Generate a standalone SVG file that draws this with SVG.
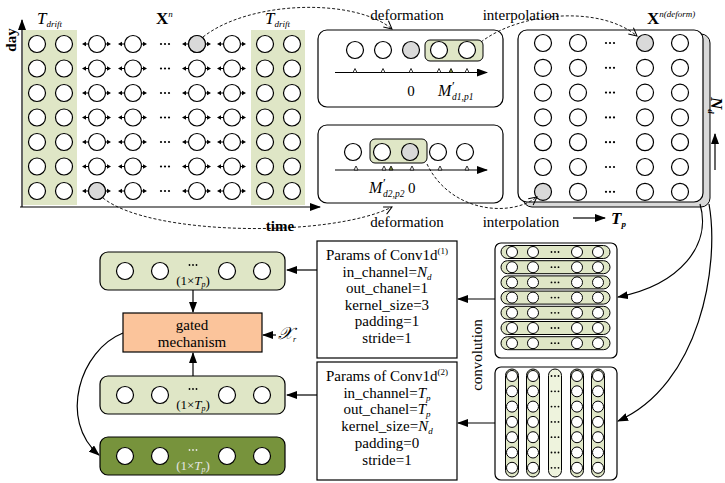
<svg xmlns="http://www.w3.org/2000/svg" width="725" height="483" viewBox="0 0 725 483" font-size="14">
<style>
.c{fill:#fff;stroke:#000;stroke-width:1.2}
.gc{fill:#d9d9d9;stroke:#000;stroke-width:1.2}
.sc{fill:#fff;stroke:#000;stroke-width:1}
.ln{fill:none;stroke:#000;stroke-width:1.2}
.dl{fill:none;stroke:#000;stroke-width:0.9;stroke-dasharray:3,2}
.band{fill:#dfe6c6}
.box{fill:#fff;stroke:#000;stroke-width:1.2}
.t{font-family:"Liberation Serif","DejaVu Serif",serif}
.it{font-style:italic}
.tk{fill:#fff;stroke:#000;stroke-width:0.8}
</style>
<defs>
<marker id="ah" markerWidth="11" markerHeight="8" refX="10" refY="4" orient="auto" markerUnits="userSpaceOnUse"><path d="M0,0 L11,4 L0,8 z" fill="#000"/></marker>
<marker id="oa" markerWidth="10" markerHeight="10" refX="9" refY="5" orient="auto" markerUnits="userSpaceOnUse"><path d="M1,1 L9,5 L1,9" fill="none" stroke="#000" stroke-width="1"/></marker>
<g id="ac"><path d="M-8.5,0 H-12 M8.5,0 H11" stroke="#000" stroke-width="1.2"/><path d="M-15,0 L-11,-2.3 L-11,2.3 z M14,0 L10,-2.3 L10,2.3 z" fill="#000"/><circle r="8.5" class="c"/></g>
<g id="dots"><circle cx="-4" r="1.1"/><circle cx="0" r="1.1"/><circle cx="4" r="1.1"/></g>
<g id="sd"><circle cx="-3.5" r="0.9"/><circle cx="0" r="0.9"/><circle cx="3.5" r="0.9"/></g>
<path id="tick" d="M-2,0 L0,-4 L2,0 z"/>
</defs>

<!-- left grid -->
<g id="grid-input">
<rect class="band" x="23" y="30" width="54" height="175"/>
<rect class="band" x="251" y="30" width="54" height="175"/>
<path d="M22,207 V20" class="ln" marker-end="url(#ah)"/>
<path d="M20,207 H320" class="ln" marker-end="url(#ah)"/>
<text class="t" font-weight="bold" font-size="15" transform="translate(16,40) rotate(-90)" text-anchor="middle">day</text>
<text class="t" font-weight="bold" font-size="15" x="280" y="231" text-anchor="middle">time</text>
<text class="t it" x="37" y="24" font-size="17">T<tspan font-size="9" dy="3">drift</tspan></text>
<text class="t it" x="265" y="24" font-size="17">T<tspan font-size="9" dy="3">drift</tspan></text>
<text class="t" x="156" y="24" font-size="17" font-weight="bold">X<tspan font-size="9" font-weight="normal" font-style="italic" dy="-7">n</tspan></text>
<g id="rows">
<g transform="translate(0,44)"><circle cx="37" r="8.5" class="c"/><circle cx="64" r="8.5" class="c"/><use href="#ac" x="97"/><use href="#ac" x="133"/><use href="#dots" x="165"/><use href="#ac" x="197"/><use href="#ac" x="232"/><circle cx="265" r="8.5" class="c"/><circle cx="292" r="8.5" class="c"/></g>
<g transform="translate(0,68.5)"><circle cx="37" r="8.5" class="c"/><circle cx="64" r="8.5" class="c"/><use href="#ac" x="97"/><use href="#ac" x="133"/><use href="#dots" x="165"/><use href="#ac" x="197"/><use href="#ac" x="232"/><circle cx="265" r="8.5" class="c"/><circle cx="292" r="8.5" class="c"/></g>
<g transform="translate(0,93)"><circle cx="37" r="8.5" class="c"/><circle cx="64" r="8.5" class="c"/><use href="#ac" x="97"/><use href="#ac" x="133"/><use href="#dots" x="165"/><use href="#ac" x="197"/><use href="#ac" x="232"/><circle cx="265" r="8.5" class="c"/><circle cx="292" r="8.5" class="c"/></g>
<g transform="translate(0,117.5)"><circle cx="37" r="8.5" class="c"/><circle cx="64" r="8.5" class="c"/><use href="#ac" x="97"/><use href="#ac" x="133"/><use href="#dots" x="165"/><use href="#ac" x="197"/><use href="#ac" x="232"/><circle cx="265" r="8.5" class="c"/><circle cx="292" r="8.5" class="c"/></g>
<g transform="translate(0,142)"><circle cx="37" r="8.5" class="c"/><circle cx="64" r="8.5" class="c"/><use href="#ac" x="97"/><use href="#ac" x="133"/><use href="#dots" x="165"/><use href="#ac" x="197"/><use href="#ac" x="232"/><circle cx="265" r="8.5" class="c"/><circle cx="292" r="8.5" class="c"/></g>
<g transform="translate(0,166.5)"><circle cx="37" r="8.5" class="c"/><circle cx="64" r="8.5" class="c"/><use href="#ac" x="97"/><use href="#ac" x="133"/><use href="#dots" x="165"/><use href="#ac" x="197"/><use href="#ac" x="232"/><circle cx="265" r="8.5" class="c"/><circle cx="292" r="8.5" class="c"/></g>
<g transform="translate(0,191)"><circle cx="37" r="8.5" class="c"/><circle cx="64" r="8.5" class="c"/><use href="#ac" x="97"/><use href="#ac" x="133"/><use href="#dots" x="165"/><use href="#ac" x="197"/><use href="#ac" x="232"/><circle cx="265" r="8.5" class="c"/><circle cx="292" r="8.5" class="c"/></g>
</g>
<circle cx="197" cy="44" r="8.5" class="gc"/>
<circle cx="97" cy="191" r="8.5" class="gc"/>
</g>

<!-- deformation box 1 -->
<g id="deform1">
<rect class="box" x="318" y="30" width="185" height="77" rx="9"/>
<rect x="425" y="40" width="58" height="21" rx="5" fill="#dfe6c6" stroke="#000" stroke-width="1"/>
<circle cx="355" cy="50" r="8.5" class="c"/><circle cx="383" cy="50" r="8.5" class="c"/><circle cx="411" cy="50" r="8.5" class="gc"/><circle cx="439" cy="50" r="8.5" class="c"/><circle cx="467" cy="50" r="8.5" class="c"/>
<path d="M335,72.5 H487" class="ln" marker-end="url(#ah)"/>
<use href="#tick" x="355" y="72.5" class="tk"/><use href="#tick" x="383" y="72.5" class="tk"/><use href="#tick" x="411" y="72.5" class="tk"/><use href="#tick" x="439" y="72.5" class="tk"/><use href="#tick" x="451" y="72.5" fill="#7a8a3a" stroke="#000" stroke-width="0.8"/><use href="#tick" x="467" y="72.5" class="tk"/>
<text class="t" x="411" y="96" font-size="15" text-anchor="middle">0</text>
<text class="t" x="438" y="96"><tspan class="it" font-size="16">M</tspan><tspan x="452" y="90" font-size="13">′</tspan><tspan class="it" x="452" y="100" font-size="9.5">d1,p1</tspan></text>
</g>

<!-- deformation box 2 -->
<g id="deform2">
<rect class="box" x="318" y="125" width="185" height="78" rx="9"/>
<rect x="370" y="139" width="57" height="24" rx="5" fill="#dfe6c6" stroke="#000" stroke-width="1"/>
<circle cx="353" cy="152" r="8.5" class="c"/><circle cx="382" cy="152" r="8.5" class="c"/><circle cx="410" cy="152" r="8.5" class="gc"/><circle cx="438" cy="152" r="8.5" class="c"/><circle cx="465" cy="152" r="8.5" class="c"/>
<path d="M335,170 H487" class="ln" marker-end="url(#ah)"/>
<use href="#tick" x="356" y="170" class="tk"/><use href="#tick" x="384" y="170" class="tk"/><use href="#tick" x="391" y="170" fill="#7a8a3a" stroke="#000" stroke-width="0.8"/><use href="#tick" x="412" y="170" class="tk"/><use href="#tick" x="440" y="170" class="tk"/><use href="#tick" x="467" y="170" class="tk"/>
<text class="t" x="369" y="193"><tspan class="it" font-size="16">M</tspan><tspan x="383" y="187" font-size="13">′</tspan><tspan class="it" x="383" y="197" font-size="9.5">d2,p2</tspan><tspan x="408" y="193" font-size="15">0</tspan></text>
</g>

<g id="labels">
<text class="t" x="407" y="20" font-size="15" text-anchor="middle">deformation</text>
<text class="t" x="521" y="20" font-size="15" text-anchor="middle">interpolation</text>
<text class="t" x="407" y="227" font-size="15" text-anchor="middle">deformation</text>
<text class="t" x="521" y="227" font-size="15" text-anchor="middle">interpolation</text>
</g>

<!-- right grid -->
<g id="grid-deform">
<rect x="523" y="34" width="187" height="173" rx="9" fill="#d9d9d9" stroke="#000" stroke-width="1"/>
<rect class="box" x="518" y="30" width="185" height="172" rx="9"/>
<text class="t" x="647" y="24" font-size="17" font-weight="bold">X<tspan font-size="9" font-weight="normal" font-style="italic" dy="-7">n(deform)</tspan></text>
<g transform="translate(0,43)"><circle cx="543" r="8.5" class="c"/><circle cx="578" r="8.5" class="c"/><use href="#dots" x="610"/><circle cx="645" r="8.5" class="gc"/><circle cx="680" r="8.5" class="c"/></g>
<g transform="translate(0,67.8)"><circle cx="543" r="8.5" class="c"/><circle cx="578" r="8.5" class="c"/><use href="#dots" x="610"/><circle cx="645" r="8.5" class="c"/><circle cx="680" r="8.5" class="c"/></g>
<g transform="translate(0,92.6)"><circle cx="543" r="8.5" class="c"/><circle cx="578" r="8.5" class="c"/><use href="#dots" x="610"/><circle cx="645" r="8.5" class="c"/><circle cx="680" r="8.5" class="c"/></g>
<g transform="translate(0,117.4)"><circle cx="543" r="8.5" class="c"/><circle cx="578" r="8.5" class="c"/><use href="#dots" x="610"/><circle cx="645" r="8.5" class="c"/><circle cx="680" r="8.5" class="c"/></g>
<g transform="translate(0,142.2)"><circle cx="543" r="8.5" class="c"/><circle cx="578" r="8.5" class="c"/><use href="#dots" x="610"/><circle cx="645" r="8.5" class="c"/><circle cx="680" r="8.5" class="c"/></g>
<g transform="translate(0,167)"><circle cx="543" r="8.5" class="c"/><circle cx="578" r="8.5" class="c"/><use href="#dots" x="610"/><circle cx="645" r="8.5" class="c"/><circle cx="680" r="8.5" class="c"/></g>
<g transform="translate(0,191.8)"><circle cx="543" r="8.5" class="gc"/><circle cx="578" r="8.5" class="c"/><use href="#dots" x="610"/><circle cx="645" r="8.5" class="c"/><circle cx="680" r="8.5" class="c"/></g>
<text class="t it" font-weight="bold" font-size="17" transform="translate(711,97) rotate(90)">N<tspan font-size="9" dy="3">d</tspan></text>
<path d="M715,170 V134" class="ln" marker-end="url(#ah)"/>
<path d="M573,218 H605" class="ln" marker-end="url(#ah)"/>
<text class="t it" font-weight="bold" x="611" y="224" font-size="17">T<tspan font-size="9" dy="3">p</tspan></text>
</g>

<!-- conv box 1 -->
<g id="conv1">
<rect class="box" x="495" y="243" width="122" height="115" rx="6"/>
<g transform="translate(0,252)"><rect x="501" y="-6.5" width="109" height="13" rx="6.5" fill="#dfe6c6" stroke="#000" stroke-width="1"/><circle cx="512" r="5.5" class="sc"/><circle cx="533" r="5.5" class="sc"/><use href="#sd" x="555"/><circle cx="577" r="5.5" class="sc"/><circle cx="598" r="5.5" class="sc"/></g>
<g transform="translate(0,267.2)"><rect x="501" y="-6.5" width="109" height="13" rx="6.5" fill="#dfe6c6" stroke="#000" stroke-width="1"/><circle cx="512" r="5.5" class="sc"/><circle cx="533" r="5.5" class="sc"/><use href="#sd" x="555"/><circle cx="577" r="5.5" class="sc"/><circle cx="598" r="5.5" class="sc"/></g>
<g transform="translate(0,282.4)"><rect x="501" y="-6.5" width="109" height="13" rx="6.5" fill="#dfe6c6" stroke="#000" stroke-width="1"/><circle cx="512" r="5.5" class="sc"/><circle cx="533" r="5.5" class="sc"/><use href="#sd" x="555"/><circle cx="577" r="5.5" class="sc"/><circle cx="598" r="5.5" class="sc"/></g>
<g transform="translate(0,297.6)"><rect x="501" y="-6.5" width="109" height="13" rx="6.5" fill="#dfe6c6" stroke="#000" stroke-width="1"/><circle cx="512" r="5.5" class="sc"/><circle cx="533" r="5.5" class="sc"/><use href="#sd" x="555"/><circle cx="577" r="5.5" class="sc"/><circle cx="598" r="5.5" class="sc"/></g>
<g transform="translate(0,312.8)"><rect x="501" y="-6.5" width="109" height="13" rx="6.5" fill="#dfe6c6" stroke="#000" stroke-width="1"/><circle cx="512" r="5.5" class="sc"/><circle cx="533" r="5.5" class="sc"/><use href="#sd" x="555"/><circle cx="577" r="5.5" class="sc"/><circle cx="598" r="5.5" class="sc"/></g>
<g transform="translate(0,328)"><rect x="501" y="-6.5" width="109" height="13" rx="6.5" fill="#dfe6c6" stroke="#000" stroke-width="1"/><circle cx="512" r="5.5" class="sc"/><circle cx="533" r="5.5" class="sc"/><use href="#sd" x="555"/><circle cx="577" r="5.5" class="sc"/><circle cx="598" r="5.5" class="sc"/></g>
<g transform="translate(0,343.2)"><rect x="501" y="-6.5" width="109" height="13" rx="6.5" fill="#dfe6c6" stroke="#000" stroke-width="1"/><circle cx="512" r="5.5" class="sc"/><circle cx="533" r="5.5" class="sc"/><use href="#sd" x="555"/><circle cx="577" r="5.5" class="sc"/><circle cx="598" r="5.5" class="sc"/></g>
</g>

<!-- conv box 2 -->
<g id="conv2">
<rect class="box" x="495" y="367" width="122" height="113" rx="6"/>
<rect x="505.5" y="369" width="13" height="108" rx="6.5" fill="#dfe6c6" stroke="#000" stroke-width="1"/>
<rect x="526.5" y="369" width="13" height="108" rx="6.5" fill="#dfe6c6" stroke="#000" stroke-width="1"/>
<rect x="548.5" y="369" width="13" height="108" rx="6.5" fill="#eef3dd" stroke="#000" stroke-width="1"/>
<rect x="570.5" y="369" width="13" height="108" rx="6.5" fill="#dfe6c6" stroke="#000" stroke-width="1"/>
<rect x="591.5" y="369" width="13" height="108" rx="6.5" fill="#dfe6c6" stroke="#000" stroke-width="1"/>
<g transform="translate(0,376)"><circle cx="512" r="5.5" class="sc"/><circle cx="533" r="5.5" class="sc"/><use href="#sd" x="555"/><circle cx="577" r="5.5" class="sc"/><circle cx="598" r="5.5" class="sc"/></g>
<g transform="translate(0,391.3)"><circle cx="512" r="5.5" class="sc"/><circle cx="533" r="5.5" class="sc"/><use href="#sd" x="555"/><circle cx="577" r="5.5" class="sc"/><circle cx="598" r="5.5" class="sc"/></g>
<g transform="translate(0,406.6)"><circle cx="512" r="5.5" class="sc"/><circle cx="533" r="5.5" class="sc"/><use href="#sd" x="555"/><circle cx="577" r="5.5" class="sc"/><circle cx="598" r="5.5" class="sc"/></g>
<g transform="translate(0,421.9)"><circle cx="512" r="5.5" class="sc"/><circle cx="533" r="5.5" class="sc"/><use href="#sd" x="555"/><circle cx="577" r="5.5" class="sc"/><circle cx="598" r="5.5" class="sc"/></g>
<g transform="translate(0,437.2)"><circle cx="512" r="5.5" class="sc"/><circle cx="533" r="5.5" class="sc"/><use href="#sd" x="555"/><circle cx="577" r="5.5" class="sc"/><circle cx="598" r="5.5" class="sc"/></g>
<g transform="translate(0,452.5)"><circle cx="512" r="5.5" class="sc"/><circle cx="533" r="5.5" class="sc"/><use href="#sd" x="555"/><circle cx="577" r="5.5" class="sc"/><circle cx="598" r="5.5" class="sc"/></g>
<g transform="translate(0,467.8)"><circle cx="512" r="5.5" class="sc"/><circle cx="533" r="5.5" class="sc"/><use href="#sd" x="555"/><circle cx="577" r="5.5" class="sc"/><circle cx="598" r="5.5" class="sc"/></g>
</g>

<text class="t" font-size="15" transform="translate(482,355) rotate(-90)" text-anchor="middle">convolution</text>

<!-- params boxes -->
<g id="params1">
<rect class="box" x="317" y="241" width="140" height="117"/>
<text class="t" x="387" y="260" font-size="15" text-anchor="middle">Params of Conv1d<tspan font-size="9" dy="-6">(1)</tspan></text>
<text class="t" x="387" y="277" font-size="15" text-anchor="middle">in_channel=<tspan class="it">N<tspan font-size="9" dy="3">d</tspan></tspan></text>
<text class="t" x="387" y="293" font-size="15" text-anchor="middle">out_chanel=1</text>
<text class="t" x="387" y="310" font-size="15" text-anchor="middle">kernel_size=3</text>
<text class="t" x="387" y="326" font-size="15" text-anchor="middle">padding=1</text>
<text class="t" x="387" y="343" font-size="15" text-anchor="middle">stride=1</text>
</g>
<g id="params2">
<rect class="box" x="317" y="362" width="140" height="118"/>
<text class="t" x="387" y="381" font-size="15" text-anchor="middle">Params of Conv1d<tspan font-size="9" dy="-6">(2)</tspan></text>
<text class="t" x="387" y="398" font-size="15" text-anchor="middle">in_channel=<tspan class="it">T<tspan font-size="9" dy="3">p</tspan></tspan></text>
<text class="t" x="387" y="414" font-size="15" text-anchor="middle">out_chanel=<tspan class="it">T<tspan font-size="9" dy="3">p</tspan></tspan></text>
<text class="t" x="387" y="431" font-size="15" text-anchor="middle">kernel_size=<tspan class="it">N<tspan font-size="9" dy="3">d</tspan></tspan></text>
<text class="t" x="387" y="448" font-size="15" text-anchor="middle">padding=0</text>
<text class="t" x="387" y="465" font-size="15" text-anchor="middle">stride=1</text>
</g>

<!-- bars -->
<g id="bar1">
<rect x="100" y="252" width="185" height="38" rx="8" fill="#dfe6c6" stroke="#000" stroke-width="1.2"/>
<circle cx="125" cy="271" r="8.5" class="c"/><circle cx="160" cy="271" r="8.5" class="c"/><circle cx="227" cy="271" r="8.5" class="c"/><circle cx="262" cy="271" r="8.5" class="c"/>
<use href="#sd" x="193" y="265"/>
<text class="t" x="193" y="285" font-size="13" text-anchor="middle">(1×<tspan class="it">T<tspan font-size="8" dy="1.5">p</tspan></tspan><tspan dy="-1.5">)</tspan></text>
</g>
<g id="gated">
<rect x="123" y="313" width="139" height="39" fill="#fbc49b" stroke="#000" stroke-width="1.2"/>
<text class="t" x="192" y="330" font-size="15" text-anchor="middle">gated</text>
<text class="t" x="192" y="347" font-size="15" text-anchor="middle">mechanism</text>
<text class="t it" x="278" y="339" font-size="17">𝒳<tspan font-size="8" dy="3">r</tspan></text>
</g>
<g id="bar2">
<rect x="100" y="376" width="185" height="38" rx="8" fill="#dfe6c6" stroke="#000" stroke-width="1.2"/>
<circle cx="125" cy="395" r="8.5" class="c"/><circle cx="160" cy="395" r="8.5" class="c"/><circle cx="227" cy="395" r="8.5" class="c"/><circle cx="262" cy="395" r="8.5" class="c"/>
<use href="#sd" x="193" y="389"/>
<text class="t" x="193" y="409" font-size="13" text-anchor="middle">(1×<tspan class="it">T<tspan font-size="8" dy="1.5">p</tspan></tspan><tspan dy="-1.5">)</tspan></text>
</g>
<g id="bar3">
<rect x="100" y="437" width="185" height="38" rx="8" fill="#77933c" stroke="#000" stroke-width="1.2"/>
<circle cx="125" cy="456" r="8.5" class="c"/><circle cx="160" cy="456" r="8.5" class="c"/><circle cx="227" cy="456" r="8.5" class="c"/><circle cx="262" cy="456" r="8.5" class="c"/>
<use href="#sd" x="193" y="450" fill="#e6e6e6"/>
<text class="t" x="193" y="470" font-size="13" text-anchor="middle" fill="#e6e6e6">(1×<tspan class="it">T<tspan font-size="8" dy="1.5">p</tspan></tspan><tspan dy="-1.5">)</tspan></text>
</g>

<!-- connectors -->
<g id="connectors">
<path class="dl" d="M203,37 C250,0 355,-2 392,29" marker-end="url(#oa)"/>
<path class="dl" d="M103,198 C150,236 330,238 392,207" marker-end="url(#oa)"/>
<path class="dl" d="M481,42 C520,12 600,5 637,36" marker-end="url(#oa)"/>
<path class="dl" d="M427,164 C450,212 510,218 537,197" marker-end="url(#oa)"/>
<path class="ln" d="M700,204 C712,245 680,285 618,297" marker-end="url(#ah)"/>
<path class="ln" d="M709,204 C720,265 700,385 618,421" marker-end="url(#ah)"/>
<path class="ln" d="M495,299 H458" marker-end="url(#ah)"/>
<path class="ln" d="M495,423 H458" marker-end="url(#ah)"/>
<path class="ln" d="M317,270 H287" marker-end="url(#ah)"/>
<path class="ln" d="M317,395 H287" marker-end="url(#ah)"/>
<path class="ln" d="M193,290 V312" marker-end="url(#ah)"/>
<path class="ln" d="M193,376 V353" marker-end="url(#ah)"/>
<path class="ln" d="M276,335 H263" marker-end="url(#ah)"/>
<path class="ln" d="M123,333 C80,350 58,420 99,455" marker-end="url(#ah)"/>
</g>
</svg>
